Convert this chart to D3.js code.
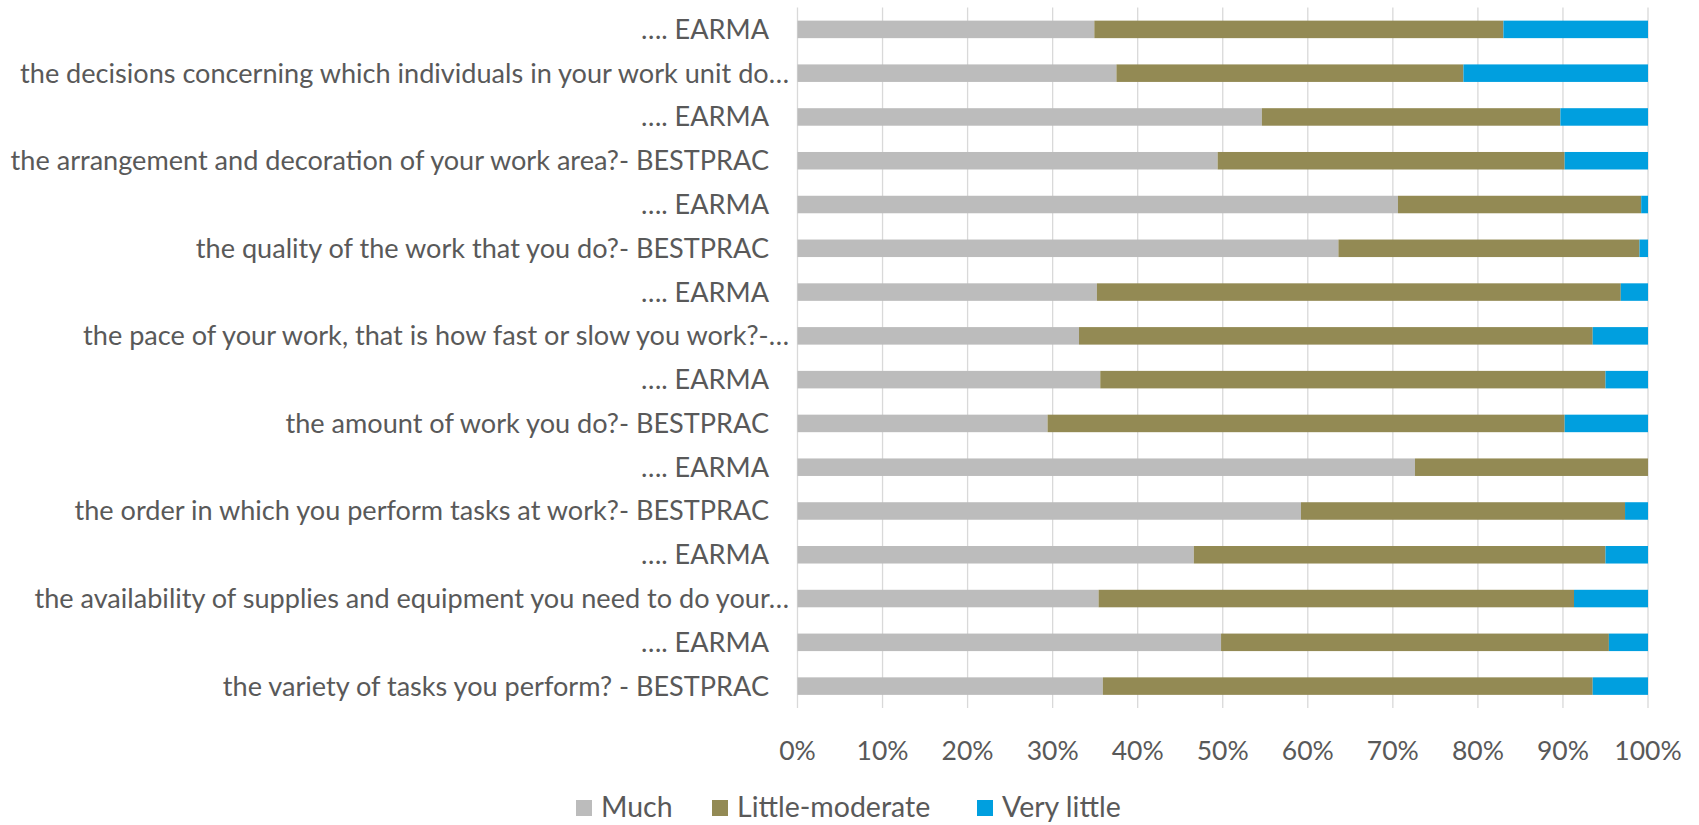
<!DOCTYPE html>
<html><head><meta charset="utf-8">
<script src="https://cdn.jsdelivr.net/npm/d3@7"></script>
<style>html,body{margin:0;padding:0;background:#fff;}svg{display:block;}</style>
</head><body>
<svg id="chart" width="1699" height="825"></svg>
<script>
const categories = [
  "…. EARMA",
  "the decisions concerning which individuals in your work unit do…",
  "…. EARMA",
  "the arrangement and decoration of your work area?- BESTPRAC",
  "…. EARMA",
  "the quality of the work that you do?- BESTPRAC",
  "…. EARMA",
  "the pace of your work, that is how fast or slow you work?-…",
  "…. EARMA",
  "the amount of work you do?- BESTPRAC",
  "…. EARMA",
  "the order in which you perform tasks at work?- BESTPRAC",
  "…. EARMA",
  "the availability of supplies and equipment you need to do your…",
  "…. EARMA",
  "the variety of tasks you perform? - BESTPRAC"
];
const much =           [34.9, 37.5, 54.6, 49.4, 70.6, 63.6, 35.2, 33.1, 35.6, 29.4, 72.6, 59.2, 46.6, 35.4, 49.8, 35.9];
const littleModerate = [48.1, 40.8, 35.1, 40.8, 28.6, 35.4, 61.6, 60.4, 59.4, 60.8, 27.4, 38.1, 48.4, 55.9, 45.6, 57.6];
const veryLittle =     [17.0, 21.7, 10.3,  9.8,  0.8,  1.0,  3.2,  6.5,  5.0,  9.8,  0.0,  2.7,  5.0,  8.7,  4.6,  6.5];
const seriesNames = ["Much", "Little-moderate", "Very little"];
const tickValues = [0, 0.1, 0.2, 0.3, 0.4, 0.5, 0.6, 0.7, 0.8, 0.9, 1.0];

const colors = ["#bcbcbc", "#938a54", "#009fdf"];
const FONT = "Lato, 'Open Sans', sans-serif";
const TXT = "#595959";

const svg = d3.select("#chart");
const pLeft = 797.5, pRight = 1648, pTop = 7.5, pBottom = 708;

const rows = categories.map((c, i) => ({cat: c, "Much": much[i], "Little-moderate": littleModerate[i], "Very little": veryLittle[i]}));
rows.forEach(r => { r.total = r["Much"] + r["Little-moderate"] + r["Very little"]; });

const x = d3.scaleLinear().domain([0, 1]).range([pLeft, pRight]);
const y = d3.scaleBand().domain(categories.map((c, i) => i)).range([pTop, pBottom]).paddingInner(0.6).paddingOuter(0.3);

svg.append("g").selectAll("line").data(tickValues).join("line")
  .attr("x1", d => x(d)).attr("x2", d => x(d))
  .attr("y1", pTop).attr("y2", pBottom)
  .attr("stroke", "#d9d9d9").attr("stroke-width", 1.3);

const stack = d3.stack().keys(seriesNames).value((d, k) => d[k] / d.total);
const stacked = stack(rows);

svg.append("g").selectAll("g").data(stacked).join("g")
  .attr("fill", (d, i) => colors[i])
  .selectAll("rect").data((d) => d.map((v, i) => ({v, i}))).join("rect")
  .attr("x", d => x(d.v[0]))
  .attr("width", d => Math.max(0, x(d.v[1]) - x(d.v[0])))
  .attr("y", d => y(d.i))
  .attr("height", y.bandwidth());

svg.append("g").selectAll("text").data(categories).join("text")
  .attr("x", d => d.endsWith("…") ? 789 : 769)
  .attr("y", (d, i) => y(i) + y.bandwidth() / 2)
  .attr("dy", "0.35em")
  .attr("text-anchor", "end")
  .attr("font-family", FONT).attr("font-size", 27.1).attr("fill", TXT)
  .text(d => d);

const fmt = d3.format(".0%");
svg.append("g").selectAll("text").data(tickValues).join("text")
  .attr("x", d => x(d)).attr("y", 751).attr("dy", "0.35em")
  .attr("text-anchor", "middle")
  .attr("font-family", FONT).attr("font-size", 26.5).attr("fill", TXT)
  .text(d => fmt(d));

const legendX = [576, 712, 977];
const lg = svg.append("g").selectAll("g").data(seriesNames).join("g")
  .attr("transform", (d, i) => `translate(${legendX[i]},807)`);
lg.append("rect").attr("x", 0).attr("y", -7).attr("width", 16).attr("height", 16).attr("fill", (d, i) => colors[i]);
lg.append("text").attr("x", 25).attr("y", 0).attr("dy", "0.35em")
  .attr("font-family", FONT).attr("font-size", 28.5).attr("fill", TXT).text(d => d);
</script>
</body></html>
